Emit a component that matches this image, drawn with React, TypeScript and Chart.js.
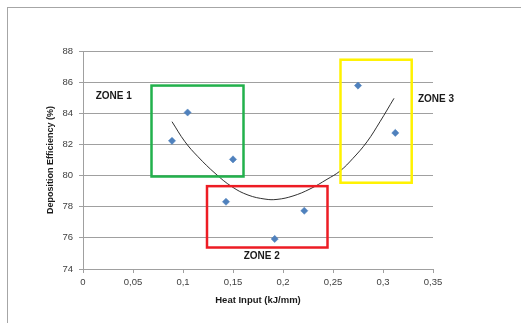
import React, { useEffect, useRef } from "react";
import { Chart, registerables } from "chart.js";

Chart.register(...registerables);

// Measured points
const heatInput = [0.089, 0.1046, 0.15, 0.143, 0.1917, 0.2213, 0.275, 0.3123];
const efficiency = [82.23, 84.05, 81.04, 78.32, 75.93, 77.74, 85.78, 82.74];

// Polynomial trendline
const trendX = [0.089, 0.102, 0.115, 0.132, 0.149, 0.165, 0.182, 0.194, 0.21, 0.227, 0.244, 0.257, 0.27, 0.284, 0.297, 0.311];
const trendY = [83.46, 82.17, 81.21, 80.15, 79.28, 78.75, 78.49, 78.47, 78.69, 79.14, 79.76, 80.29, 81.11, 82.17, 83.46, 84.96];

// Axis ticks
const xTickLabels = ["0", "0,05", "0,1", "0,15", "0,2", "0,25", "0,3", "0,35"];
const yTicks = [74, 76, 78, 80, 82, 84, 86, 88];

// Zones
const zoneNames = ["ZONE 1", "ZONE 2", "ZONE 3"];
const zoneColors = ["#22b14c", "#ed1c24", "#fff200"];
const zoneXMin = [0.0685, 0.124, 0.2575];
const zoneXMax = [0.1605, 0.2445, 0.3287];
const zoneYMin = [79.94, 75.38, 79.54];
const zoneYMax = [85.78, 79.32, 87.44];
const zoneLabelX = [0.0307, 0.1787, 0.353];
const zoneLabelY = [85.11, 74.79, 84.9];

const zonesPlugin = {
  id: "zones",
  beforeDraw(chart: any) {
    const ctx = chart.ctx;
    ctx.save();
    ctx.fillStyle = "#ffffff";
    ctx.fillRect(0, 0, chart.width, chart.height);
    ctx.fillStyle = "#a6a6a6";
    ctx.fillRect(7, 7, chart.width, 1);
    ctx.fillRect(7, 7, 1, chart.height);
    ctx.restore();
  },
  afterDatasetsDraw(chart: any) {
    const ctx = chart.ctx;
    const xs = chart.scales.x;
    const ys = chart.scales.y;
    ctx.save();
    ctx.lineWidth = 2.5;
    for (let i = 0; i < zoneNames.length; i++) {
      const x1 = xs.getPixelForValue(zoneXMin[i]);
      const x2 = xs.getPixelForValue(zoneXMax[i]);
      const y1 = ys.getPixelForValue(zoneYMax[i]);
      const y2 = ys.getPixelForValue(zoneYMin[i]);
      ctx.strokeStyle = zoneColors[i];
      ctx.strokeRect(x1, y1, x2 - x1, y2 - y1);
    }
    ctx.fillStyle = "#1a1a1a";
    ctx.font = "bold 10px 'Liberation Sans', Arial, sans-serif";
    ctx.textAlign = "center";
    ctx.textBaseline = "middle";
    for (let i = 0; i < zoneNames.length; i++) {
      ctx.fillText(zoneNames[i], xs.getPixelForValue(zoneLabelX[i]), ys.getPixelForValue(zoneLabelY[i]));
    }
    ctx.restore();
  },
};

export default function App() {
  const ref = useRef<HTMLCanvasElement | null>(null);
  useEffect(() => {
    if (!ref.current) return;
    const tickFont = { family: "'Liberation Sans', Arial, sans-serif", size: 9.5 };
    const chart = new Chart(ref.current, {
      type: "scatter",
      data: {
        datasets: [
          {
            label: "Deposition Efficiency",
            data: heatInput.map((x, i) => ({ x, y: efficiency[i] })),
            pointStyle: "rectRot",
            pointRadius: 3.6,
            pointBackgroundColor: "#4f81bd",
            pointBorderColor: "#4f81bd",
            pointBorderWidth: 0.5,
            showLine: false,
            order: 1,
          },
          {
            label: "Trend",
            data: trendX.map((x, i) => ({ x, y: trendY[i] })),
            showLine: true,
            borderColor: "#1a1a1a",
            borderWidth: 0.9,
            pointRadius: 0,
            tension: 0.4,
            fill: false,
            order: 2,
          },
        ],
      },
      options: {
        animation: false,
        responsive: false,
        devicePixelRatio: 1,
        layout: { padding: { top: 51, right: 88, left: 0, bottom: 0 } },
        plugins: { legend: { display: false }, tooltip: { enabled: false } },
        scales: {
          x: {
            type: "linear",
            min: 0,
            max: 0.35,
            afterFit(s: any) {
              s.height = 54;
            },
            ticks: {
              stepSize: 0.05,
              padding: 4,
              color: "#404040",
              font: tickFont,
              maxRotation: 0,
              callback: (_v: any, i: number) => xTickLabels[i],
            },
            grid: { drawOnChartArea: false, drawTicks: true, tickLength: 4, color: "#a0a0a0" },
            border: { display: true, color: "#a0a0a0" },
            title: {
              display: true,
              text: "Heat Input (kJ/mm)",
              color: "#1a1a1a",
              font: { family: "'Liberation Sans', Arial, sans-serif", size: 9.5, weight: "bold" },
              padding: { top: 0, bottom: 17.3 },
            },
          },
          y: {
            type: "linear",
            min: yTicks[0],
            max: yTicks[yTicks.length - 1],
            afterFit(s: any) {
              s.width = 83;
            },
            ticks: {
              stepSize: 2,
              padding: 6,
              color: "#404040",
              font: tickFont,
              callback: (v: any) => String(v),
            },
            grid: { drawOnChartArea: true, drawTicks: true, tickLength: 4, color: "#a0a0a0" },
            border: { display: true, color: "#a0a0a0" },
            title: {
              display: true,
              text: "Deposition Efficiency (%)",
              color: "#1a1a1a",
              font: { family: "'Liberation Sans', Arial, sans-serif", size: 9, weight: "bold" },
              padding: { top: 45.6, bottom: 0 },
            },
          },
        },
      },
      plugins: [zonesPlugin],
    } as any);
    return () => chart.destroy();
  }, []);
  return (
    <div style={{ position: "absolute", left: 0, top: 0, width: 521, height: 323 }}>
      <canvas ref={ref} width={521} height={323} style={{ display: "block" }} />
    </div>
  );
}
